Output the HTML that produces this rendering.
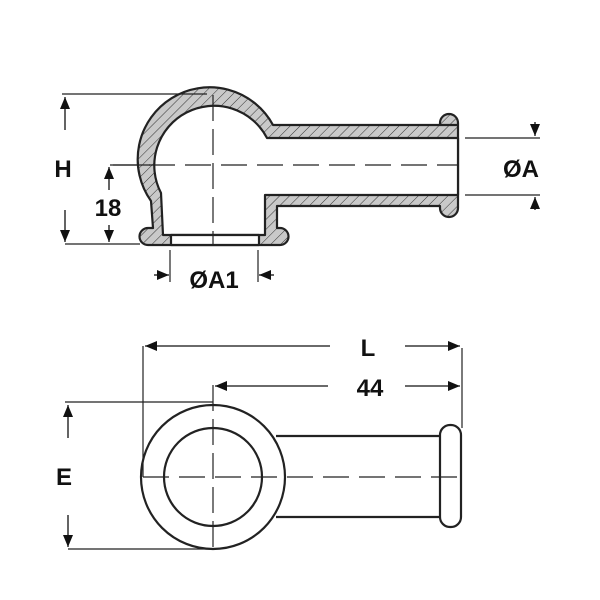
<!DOCTYPE html>
<html><head><style>html,body{margin:0;padding:0;background:#fff}svg{display:block}</style></head><body>
<svg width="600" height="600" viewBox="0 0 600 600" xmlns="http://www.w3.org/2000/svg">
<defs>
<pattern id="h" patternUnits="userSpaceOnUse" width="7" height="7" patternTransform="rotate(45)">
<rect width="7" height="7" fill="#c9c9c9"/>
<line x1="0" y1="0" x2="0" y2="7" stroke="#333" stroke-width="1"/>
</pattern>
<marker id="a" markerWidth="12" markerHeight="10" refX="12" refY="5" orient="auto" markerUnits="userSpaceOnUse"><path d="M0,0 L12,5 L0,10 Z" fill="#111"/></marker>
</defs>
<g stroke="#222" stroke-width="2.2" stroke-linejoin="round">
<path fill="url(#h)" d="M458,125 L273,125 A72,72 0 1 0 151,201 L153,228 L148,228 A8.5,8.5 0 0 0 148,245 L280,245 A8.5,8.5 0 0 0 280,228 L277,228 L277,206 L440,206 L440,208 A9,9 0 0 0 458,208 L458,123 A9,9 0 0 0 440,123 L440,125 Z"/>
<path fill="#fff" d="M458,138 L267,138 A58,58 0 1 0 161,193 L163,235 L265,235 L265,195 L458,195 Z"/>
<rect x="171" y="235" width="88" height="10" fill="#fff"/>
</g>
<line x1="163" y1="235" x2="265" y2="235" stroke="#222" stroke-width="2"/>
<g stroke="#222" stroke-width="1.2" fill="none">
<line x1="213" y1="95" x2="213" y2="246" stroke-dasharray="26,8"/>
<line x1="113" y1="165" x2="458" y2="165" stroke-dasharray="26,10"/>
<line x1="62" y1="94" x2="207" y2="94"/>
<line x1="65" y1="244" x2="140" y2="244"/>
<line x1="110" y1="165" x2="150" y2="165"/>
<line x1="465" y1="138" x2="540" y2="138"/>
<line x1="465" y1="195" x2="540" y2="195"/>
<line x1="170" y1="250" x2="170" y2="282"/>
<line x1="258" y1="250" x2="258" y2="282"/>
</g>
<g stroke="#111" stroke-width="1.3">
<line x1="65" y1="130" x2="65" y2="97" marker-end="url(#a)"/>
<line x1="65" y1="210" x2="65" y2="242" marker-end="url(#a)"/>
<line x1="109" y1="190" x2="109" y2="167" marker-end="url(#a)"/>
<line x1="109" y1="225" x2="109" y2="242" marker-end="url(#a)"/>
<line x1="535" y1="122" x2="535" y2="136" marker-end="url(#a)"/>
<line x1="535" y1="210" x2="535" y2="197" marker-end="url(#a)"/>
<line x1="154" y1="275" x2="169" y2="275" marker-end="url(#a)"/>
<line x1="274" y1="275" x2="259" y2="275" marker-end="url(#a)"/>
</g>
<g stroke="#222" stroke-width="2.2" fill="none">
<path d="M276,436 L440,436 M276,517 L440,517"/>
<rect x="440" y="425" width="21" height="102" rx="10" fill="#fff"/>
<circle cx="213" cy="477" r="72" fill="#fff"/>
<circle cx="213" cy="477" r="49"/>
</g>
<g stroke="#222" stroke-width="1.2" fill="none">
<line x1="213" y1="385" x2="213" y2="550" stroke-dasharray="26,8"/>
<line x1="143" y1="477" x2="461" y2="477" stroke-dasharray="26,10"/>
<line x1="143" y1="346" x2="143" y2="477"/>
<line x1="462" y1="348" x2="462" y2="428"/>
<line x1="65" y1="402" x2="213" y2="402"/>
<line x1="68" y1="549" x2="213" y2="549"/>
</g>
<g stroke="#111" stroke-width="1.3">
<line x1="330" y1="346" x2="145" y2="346" marker-end="url(#a)"/>
<line x1="405" y1="346" x2="460" y2="346" marker-end="url(#a)"/>
<line x1="328" y1="386" x2="215" y2="386" marker-end="url(#a)"/>
<line x1="405" y1="386" x2="460" y2="386" marker-end="url(#a)"/>
<line x1="68" y1="438" x2="68" y2="405" marker-end="url(#a)"/>
<line x1="68" y1="515" x2="68" y2="547" marker-end="url(#a)"/>
</g>
<g font-family="Liberation Sans, sans-serif" font-weight="bold" font-size="24" fill="#111" text-anchor="middle">
<text x="63" y="177">H</text>
<text x="108" y="216">18</text>
<text x="521" y="177">ØA</text>
<text x="214" y="288">ØA1</text>
<text x="368" y="356">L</text>
<text x="370" y="396">44</text>
<text x="64" y="485">E</text>
</g>
</svg>
</body></html>
